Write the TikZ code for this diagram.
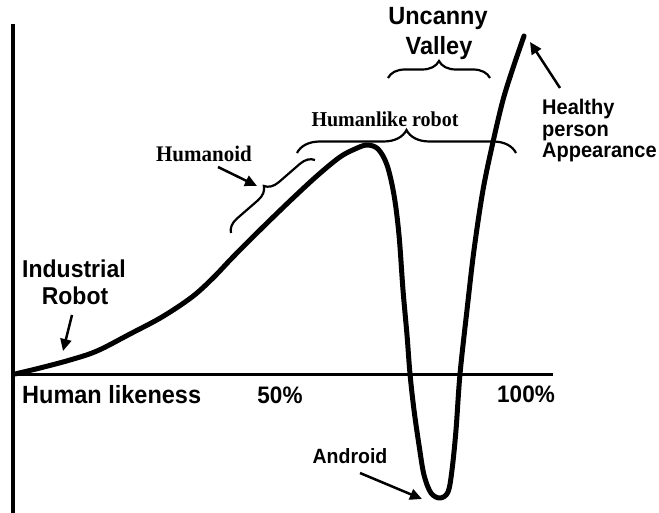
\documentclass[tikz,border=0pt]{standalone}
\usepackage{graphicx}
\usepackage{fontspec}
\setmainfont{Liberation Serif}
\setsansfont{Liberation Sans}
\usetikzlibrary{arrows.meta,decorations.pathreplacing}
\newcommand{\tallT}[1]{\scalebox{1}[1.06]{#1}}
\begin{document}
\begin{tikzpicture}[x=1pt,y=-1pt,
  lab/.style={font=\sffamily\bfseries\fontsize{#1}{#1}\selectfont, inner sep=0pt, anchor=base},
  lab/.default=22,
  serlab/.style={font=\rmfamily\bfseries\fontsize{#1}{#1}\selectfont, inner sep=0pt, anchor=base},
  serlab/.default=20,
  axisline/.style={line width=#1},
  curveline/.style={line width=5pt, line join=round, line cap=round},
  bracedec/.style={decorate, decoration={brace, amplitude=#1}, line width=2.2pt},
  pointer/.style={line width=2.5pt, -{Triangle[length=12pt,width=11pt]}}]
\useasboundingbox (0,0) rectangle (659,513);
% axes
\coordinate (ytop) at (13,24);
\coordinate (ybot) at (13,513);
\coordinate (xleft) at (13,374);
\coordinate (xright) at (553,374);
\draw[axisline=4pt] (ytop) -- (ybot);
\draw[axisline=3pt] (xleft) -- (xright);
% curve
\draw[curveline] plot[smooth, tension=0.55] coordinates {
 (15,374) (40,368) (70,360) (97,351) (130,334) (162,317) (192,297) (213,278)
 (233,257) (262,228) (292,199) (318,175) (340,157) (355,149) (367,145) (378,149)
 (387,165) (394,195) (399,235) (403,290) (407,335) (410,374) (414,410) (419,445)
 (424,475) (431,493) (440,498) (448,492) (452,470) (456,430) (460,374) (467,310)
 (474,250) (483,190) (493,142) (503,100) (513,68) (524,36)};
% braces
\coordinate (hlA) at (297,153);
\coordinate (hlB) at (516,153);
\draw[bracedec=23pt] (hlA) -- (hlB);
\coordinate (hdA) at (231,233);
\coordinate (hdB) at (315,160);
\draw[bracedec=14pt] (hdA) -- (hdB);
\coordinate (uvA) at (388,78);
\coordinate (uvB) at (490,78);
\draw[bracedec=17pt] (uvA) -- (uvB);
% labels
\node[lab=23.5] (uncanny) at (438,25) {\tallT{Uncanny}};
\node[lab=23.5] (valley) at (439,55) {\tallT{Valley}};
\node[lab=20, anchor=base west] (healthy) at (542,115) {\tallT{Healthy}};
\node[lab=20, anchor=base west] (person) at (542,137) {\tallT{person}};
\node[lab=20, anchor=base west] (appear) at (542,158) {\tallT{Appearance}};
\node[lab=23] (industrial) at (74,277) {\tallT{Industrial}};
\node[lab=23] (robot) at (75,305) {\tallT{Robot}};
\node[lab=23.5, anchor=base west] (likeness) at (22,403) {\tallT{Human likeness}};
\node[lab=22.5] (fifty) at (280,403) {\tallT{50\%}};
\node[lab=22.5] (hundred) at (526,402) {\tallT{100\%}};
\node[lab=19.5] (android) at (350,463) {\tallT{Android}};
\node[serlab=20] (humanlike) at (385,127) {\tallT{Humanlike robot}};
\node[serlab=21] (humanoid) at (204,162) {\tallT{Humanoid}};
% pointers
\coordinate (hpA) at (560,88);
\coordinate (hpB) at (530,42);
\draw[pointer] (hpA) -- (hpB);
\coordinate (irA) at (72,315);
\coordinate (irB) at (63,351);
\draw[pointer] (irA) -- (irB);
\coordinate (anA) at (360,473);
\coordinate (anB) at (422,499);
\draw[pointer] (anA) -- (anB);
\coordinate (hoA) at (218,167);
\coordinate (hoB) at (257,186);
\draw[pointer] (hoA) -- (hoB);
\end{tikzpicture}
\end{document}
